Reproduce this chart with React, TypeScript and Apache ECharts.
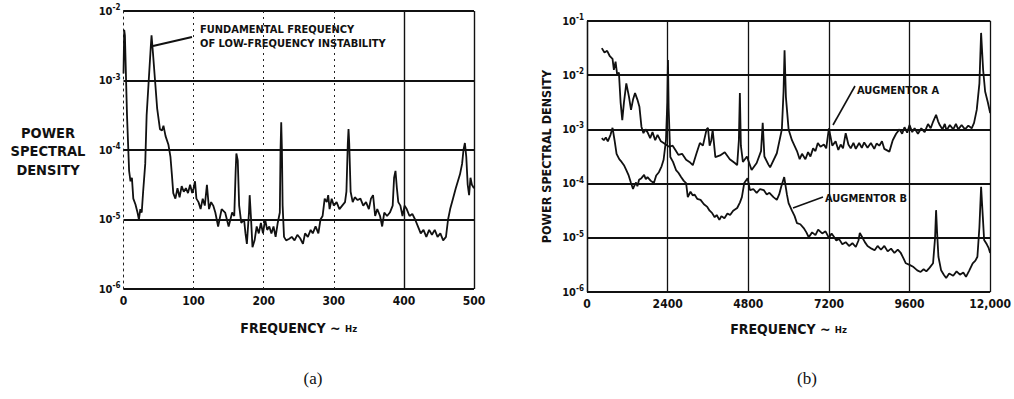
import { useEffect, useRef } from "react";
import * as echarts from "echarts";

// ---------- data (frequency in Hz, log10 of power spectral density) ----------
const leftTicks = [0, 100, 200, 300, 400, 500];
const rightTicks = [0, 2400, 4800, 7200, 9600, 12000];

const lowFreqPSD: [number, number][] = [
  [0, -2.9], [1, -2.27], [2, -2.35], [5, -3.5], [8, -4.3], [10, -4.45], [12, -4.4], [14, -4.7],
  [17, -4.78], [20, -4.9], [22, -5.0], [24, -4.85], [26, -4.9], [28, -4.6], [31, -4.2], [33, -3.5],
  [36, -3.0], [39, -2.5], [40, -2.35], [42, -2.6], [45, -3.0], [48, -3.4], [52, -3.7], [55, -3.72],
  [57, -3.65], [60, -3.8], [64, -3.92], [67, -4.1], [69, -4.35], [71, -4.62], [74, -4.7], [77, -4.55],
  [80, -4.68], [83, -4.52], [86, -4.6], [89, -4.55], [92, -4.62], [95, -4.5], [98, -4.62], [100, -4.55],
  [102, -4.45], [104, -4.7], [107, -4.75], [110, -4.85], [113, -4.7], [116, -4.8], [119, -4.5], [122, -4.85],
  [125, -4.75], [128, -4.8], [131, -4.9], [135, -5.1], [140, -4.85], [145, -4.9], [150, -5.1], [155, -4.9],
  [158, -4.95], [160, -4.3], [161, -4.05], [163, -4.15], [165, -4.8], [168, -5.05], [172, -5.0], [174, -5.2],
  [176, -5.35], [179, -4.9], [180, -4.65], [182, -5.0], [184, -5.4], [187, -5.3], [190, -5.1], [193, -5.2],
  [196, -5.05], [199, -5.2], [202, -5.0], [205, -5.15], [208, -5.1], [211, -5.2], [214, -5.1], [217, -5.25],
  [220, -5.05], [223, -4.9], [224, -4.0], [225, -3.6], [226, -4.0], [227, -4.8], [229, -5.25], [232, -5.3],
  [236, -5.28], [240, -5.25], [244, -5.3], [248, -5.22], [252, -5.27], [256, -5.35], [259, -5.2], [263, -5.25],
  [267, -5.15], [270, -5.2], [274, -5.1], [278, -5.2], [281, -5.0], [284, -4.95], [287, -4.7], [290, -4.75],
  [292, -4.65], [294, -4.85], [297, -4.7], [300, -4.8], [304, -4.75], [308, -4.85], [312, -4.8], [316, -4.75],
  [318, -4.6], [320, -3.9], [321, -3.7], [322, -3.9], [324, -4.6], [327, -4.75], [330, -4.68], [334, -4.72],
  [338, -4.7], [342, -4.8], [346, -4.75], [350, -4.85], [353, -4.7], [356, -4.65], [359, -4.95], [362, -4.85],
  [366, -4.95], [369, -5.1], [372, -4.9], [376, -4.95], [380, -4.9], [384, -4.8], [386, -4.4], [388, -4.3],
  [390, -4.55], [392, -4.75], [395, -4.8], [398, -4.95], [401, -4.8], [404, -4.85], [408, -4.95], [412, -4.92],
  [416, -5.0], [420, -5.1], [424, -5.2], [428, -5.15], [432, -5.25], [436, -5.15], [440, -5.22], [444, -5.15],
  [448, -5.25], [452, -5.2], [456, -5.3], [460, -5.25], [463, -5.0], [466, -4.85], [470, -4.7], [474, -4.55],
  [477, -4.45], [480, -4.35], [483, -4.2], [485, -4.0], [487, -3.9], [489, -4.1], [491, -4.5], [493, -4.65],
  [495, -4.4], [497, -4.5], [500, -4.55],
];

const augmentorA: [number, number][] = [
  [440, -1.5], [520, -1.58], [600, -1.55], [680, -1.65], [760, -1.7], [800, -1.9], [850, -1.75], [900, -2.0],
  [950, -1.95], [1000, -2.5], [1050, -2.83], [1100, -2.5], [1170, -2.15], [1250, -2.4], [1310, -2.64], [1370, -2.45],
  [1430, -2.33], [1500, -2.45], [1560, -2.58], [1620, -2.95], [1680, -3.07], [1740, -3.0], [1800, -3.05], [1880, -3.16],
  [1950, -3.05], [2030, -3.2], [2100, -3.1], [2200, -3.22], [2280, -3.25], [2400, -3.3], [2450, -3.32], [2550, -3.3],
  [2650, -3.4], [2720, -3.47], [2830, -3.45], [2950, -3.56], [3050, -3.6], [3150, -3.66], [3260, -3.44], [3360, -3.25],
  [3450, -3.3], [3560, -3.0], [3600, -2.97], [3650, -3.3], [3700, -3.2], [3740, -3.01], [3820, -3.51], [3960, -3.48],
  [4100, -3.42], [4250, -3.55], [4400, -3.62], [4470, -3.66], [4520, -3.2], [4550, -2.33], [4580, -3.3], [4640, -3.6],
  [4760, -3.5], [4900, -3.75], [5050, -3.62], [5180, -3.4], [5230, -2.88], [5280, -3.5], [5400, -3.65], [5450, -3.7],
  [5650, -3.44], [5800, -3.0], [5850, -2.3], [5880, -1.54], [5920, -2.4], [6000, -3.0], [6100, -3.2], [6250, -3.4],
  [6330, -3.55], [6400, -3.45], [6500, -3.55], [6580, -3.42], [6650, -3.5], [6730, -3.35], [6800, -3.4], [6870, -3.25],
  [6950, -3.32], [7050, -3.28], [7120, -3.35], [7200, -2.98], [7300, -3.3], [7400, -3.22], [7480, -3.38], [7550, -3.28],
  [7620, -3.35], [7700, -3.07], [7780, -3.28], [7850, -3.35], [7930, -3.25], [8000, -3.36], [8100, -3.25], [8180, -3.34],
  [8250, -3.24], [8350, -3.34], [8450, -3.25], [8550, -3.36], [8620, -3.26], [8700, -3.3], [8780, -3.22], [8850, -3.36],
  [9000, -3.41], [9100, -3.2], [9200, -3.08], [9300, -3.0], [9380, -3.08], [9450, -2.96], [9530, -3.06], [9600, -2.92],
  [9680, -3.05], [9750, -2.98], [9850, -3.08], [9950, -2.98], [10050, -3.05], [10150, -2.9], [10230, -2.98], [10300, -2.86],
  [10390, -2.73], [10450, -2.85], [10500, -2.92], [10580, -3.0], [10650, -2.9], [10700, -3.02], [10800, -2.92], [10900, -3.0],
  [10980, -2.9], [11050, -3.0], [11150, -2.92], [11250, -3.0], [11350, -2.93], [11450, -2.98], [11520, -2.88], [11600, -2.64],
  [11680, -2.15], [11730, -1.22], [11790, -1.9], [11850, -2.3], [11930, -2.5], [12000, -2.7],
];

const augmentorB: [number, number][] = [
  [440, -3.16], [500, -3.2], [560, -3.15], [620, -3.22], [700, -3.1], [760, -2.97], [820, -3.2], [880, -3.45],
  [960, -3.55], [1030, -3.6], [1100, -3.66], [1170, -3.75], [1240, -3.85], [1310, -3.99], [1370, -4.1], [1400, -4.05],
  [1460, -3.98], [1500, -4.05], [1550, -3.93], [1620, -3.9], [1700, -3.84], [1750, -3.92], [1800, -3.88], [1900, -3.95],
  [1990, -3.99], [2060, -3.85], [2140, -3.79], [2220, -3.68], [2280, -3.56], [2350, -3.2], [2390, -2.5], [2410, -1.72],
  [2430, -2.6], [2480, -3.51], [2560, -3.6], [2650, -3.75], [2720, -3.8], [2800, -3.88], [2880, -3.95], [2950, -3.99],
  [3000, -4.25], [3080, -4.15], [3150, -4.22], [3200, -4.2], [3280, -4.28], [3380, -4.3], [3480, -4.38], [3580, -4.43],
  [3650, -4.5], [3720, -4.54], [3800, -4.62], [3860, -4.58], [3940, -4.67], [4000, -4.6], [4090, -4.64], [4180, -4.55],
  [4260, -4.58], [4350, -4.5], [4470, -4.45], [4550, -4.35], [4610, -4.25], [4680, -3.99], [4780, -3.9], [4850, -4.12],
  [4950, -4.1], [5050, -4.17], [5150, -4.1], [5260, -4.12], [5350, -4.2], [5430, -4.17], [5550, -4.25], [5650, -4.3],
  [5720, -4.2], [5780, -4.06], [5870, -3.88], [5950, -4.2], [6000, -4.36], [6100, -4.5], [6180, -4.6], [6250, -4.73],
  [6350, -4.75], [6450, -4.82], [6530, -4.9], [6600, -4.99], [6700, -4.9], [6800, -4.95], [6880, -4.85], [7000, -4.92],
  [7100, -4.88], [7200, -5.0], [7280, -4.92], [7350, -4.98], [7420, -5.05], [7500, -5.02], [7600, -5.12], [7700, -5.08],
  [7800, -5.15], [7900, -5.1], [8000, -5.17], [8080, -5.05], [8120, -4.91], [8200, -5.0], [8270, -5.08], [8350, -5.15],
  [8470, -5.2], [8560, -5.23], [8650, -5.15], [8750, -5.22], [8850, -5.15], [8950, -5.25], [9050, -5.2], [9150, -5.28],
  [9250, -5.22], [9340, -5.28], [9420, -5.38], [9490, -5.47], [9600, -5.5], [9720, -5.54], [9830, -5.6], [9930, -5.63],
  [10020, -5.58], [10100, -5.62], [10200, -5.55], [10300, -5.47], [10360, -5.0], [10390, -4.49], [10420, -4.9],
  [10460, -5.35], [10540, -5.6], [10620, -5.68], [10690, -5.74], [10780, -5.66], [10900, -5.7], [11000, -5.62],
  [11100, -5.68], [11200, -5.64], [11280, -5.72], [11380, -5.6], [11480, -5.47], [11560, -5.42], [11620, -5.35],
  [11680, -4.8], [11730, -4.06], [11780, -4.6], [11820, -5.04], [11900, -5.12], [11950, -5.18], [12000, -5.28],
];

const condensed = "'DejaVu Sans Condensed', 'Liberation Sans Narrow', 'DejaVu Sans', sans-serif";
const serif = "'Liberation Serif', 'DejaVu Serif', serif";

const toSeries = (d: [number, number][]) => d.map(([f, e]) => [f, Math.pow(10, e)]);

const expLabel = (v: number) => {
  const e = Math.round(Math.log10(v));
  return `{b|10}{s|-${-e}}`;
};

const yRich = {
  b: { fontFamily: condensed, fontWeight: "bold", fontSize: 11, color: "#111" },
  s: { fontFamily: condensed, fontWeight: "bold", fontSize: 8, color: "#111", padding: [0, 0, 7, 0] },
};

const nameRich = {
  t: { fontFamily: condensed, fontWeight: "bold", fontSize: 14, color: "#111" },
  u: { fontFamily: condensed, fontWeight: "bold", fontSize: 9.5, color: "#111" },
};

export default function App() {
  const ref = useRef<HTMLDivElement>(null);

  useEffect(() => {
    if (!ref.current) return;
    const chart = echarts.init(ref.current, undefined, { renderer: "svg" });
    const lineCommon = {
      type: "line",
      showSymbol: false,
      symbol: "none",
      smooth: false,
      lineStyle: { color: "#111", width: 1.8 },
      z: 5,
    };
    const xLabel = {
      fontFamily: condensed,
      fontWeight: "bold",
      fontSize: 12,
      color: "#111",
      margin: 6,
    };
    chart.setOption({
      animation: false,
      backgroundColor: "#fff",
      grid: [
        { left: 123.5, top: 11, width: 350.5, height: 278, show: false },
        { left: 587, top: 21, width: 411, height: 271, show: false },
      ],
      xAxis: [
        {
          gridIndex: 0,
          type: "value",
          min: 0,
          max: 500,
          interval: 100,
          axisLine: { show: false },
          axisTick: { show: false },
          axisLabel: { ...xLabel, formatter: (v: number) => (leftTicks.includes(v) ? String(v) : "") },
          splitLine: { show: true, lineStyle: { color: "#222", width: 1, type: [2, 4] } },
          name: "{t|FREQUENCY ~ }{u|Hz}",
          nameLocation: "middle",
          nameGap: 32,
          nameTextStyle: { rich: nameRich },
        },
        {
          gridIndex: 1,
          type: "value",
          min: 0,
          max: 12000,
          interval: 2400,
          axisLine: { show: false },
          axisTick: { show: false },
          axisLabel: {
            ...xLabel,
            formatter: (v: number) => (rightTicks.includes(v) ? (v >= 10000 ? v.toLocaleString("en-US") : String(v)) : ""),
          },
          splitLine: { show: true, lineStyle: { color: "#111", width: 1.3 } },
          name: "{t|FREQUENCY ~ }{u|Hz}",
          nameLocation: "middle",
          nameGap: 30,
          nameTextStyle: { rich: nameRich },
        },
      ],
      yAxis: [
        {
          gridIndex: 0,
          type: "log",
          logBase: 10,
          min: 1e-6,
          max: 1e-2,
          axisLine: { show: true, lineStyle: { color: "#222", width: 1, type: [2, 4] } },
          axisTick: { show: false },
          axisLabel: { formatter: expLabel, rich: yRich, margin: 3 },
          splitLine: { show: true, lineStyle: { color: "#111", width: 1.8 } },
        },
        {
          gridIndex: 1,
          type: "log",
          logBase: 10,
          min: 1e-6,
          max: 1e-1,
          axisLine: { show: true, lineStyle: { color: "#111", width: 1.3 } },
          axisTick: { show: false },
          axisLabel: { formatter: expLabel, rich: yRich, margin: 3 },
          splitLine: { show: true, lineStyle: { color: "#111", width: 1.8 } },
          name: "POWER SPECTRAL DENSITY",
          nameLocation: "middle",
          nameRotate: 90,
          nameGap: 34,
          nameTextStyle: { fontFamily: condensed, fontWeight: "bold", fontSize: 12.5, color: "#111" },
        },
      ],
      series: [
        {
          ...lineCommon,
          name: "Low-frequency",
          xAxisIndex: 0,
          yAxisIndex: 0,
          data: toSeries(lowFreqPSD),
          markLine: {
            silent: true,
            symbol: "none",
            label: { show: false },
            lineStyle: { color: "#111", width: 1.4, type: "solid" },
            data: [{ xAxis: 400 }, { xAxis: 500 }],
          },
        },
        { ...lineCommon, name: "Augmentor A", xAxisIndex: 1, yAxisIndex: 1, data: toSeries(augmentorA) },
        { ...lineCommon, name: "Augmentor B", xAxisIndex: 1, yAxisIndex: 1, data: toSeries(augmentorB) },
      ],
      graphic: [
        {
          type: "text",
          x: 48,
          y: 151,
          style: {
            text: "POWER\nSPECTRAL\nDENSITY",
            align: "center",
            verticalAlign: "middle",
            lineHeight: 18.5,
            font: `bold 14.5px ${condensed}`,
            fill: "#111",
          },
        },
        {
          type: "text",
          x: 200,
          y: 36.5,
          style: {
            text: "FUNDAMENTAL FREQUENCY\nOF LOW-FREQUENCY INSTABILITY",
            align: "left",
            verticalAlign: "middle",
            lineHeight: 14.5,
            font: `bold 11px ${condensed}`,
            fill: "#111",
          },
        },
        {
          type: "line",
          shape: { x1: 153, y1: 46, x2: 192, y2: 37 },
          style: { stroke: "#111", lineWidth: 2 },
        },
        {
          type: "text",
          x: 857,
          y: 90,
          style: { text: "AUGMENTOR A", align: "left", verticalAlign: "middle", font: `bold 11px ${condensed}`, fill: "#111" },
        },
        {
          type: "line",
          shape: { x1: 855, y1: 86, x2: 833, y2: 125 },
          style: { stroke: "#111", lineWidth: 1.6 },
        },
        {
          type: "text",
          x: 825,
          y: 198,
          style: { text: "AUGMENTOR B", align: "left", verticalAlign: "middle", font: `bold 11px ${condensed}`, fill: "#111" },
        },
        {
          type: "line",
          shape: { x1: 823, y1: 197, x2: 793, y2: 208 },
          style: { stroke: "#111", lineWidth: 1.6 },
        },
        {
          type: "text",
          x: 313,
          y: 378,
          style: { text: "(a)", align: "center", verticalAlign: "middle", font: `17px ${serif}`, fill: "#111" },
        },
        {
          type: "text",
          x: 807,
          y: 378,
          style: { text: "(b)", align: "center", verticalAlign: "middle", font: `17px ${serif}`, fill: "#111" },
        },
      ],
    });
    return () => chart.dispose();
  }, []);

  return (
    <div
      ref={ref}
      style={{ position: "fixed", left: 0, top: 0, width: 1014, height: 399, background: "#fff" }}
    />
  );
}
